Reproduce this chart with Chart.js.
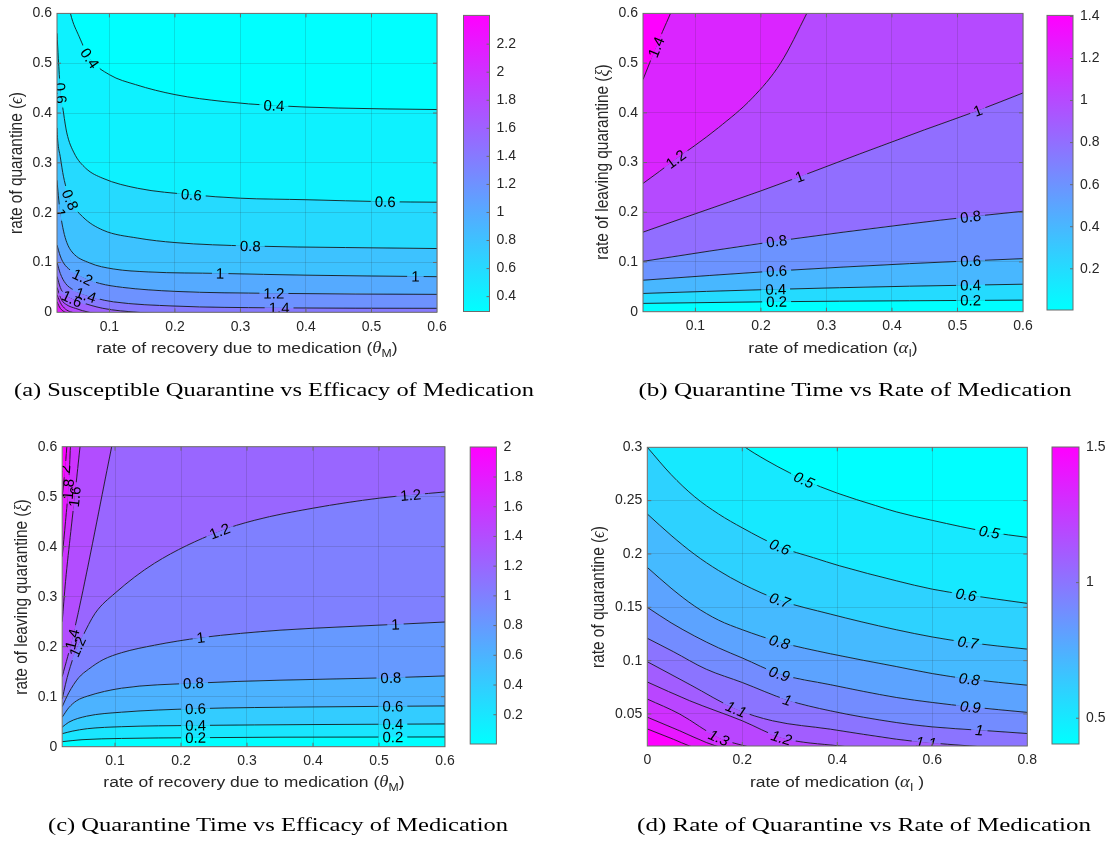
<!DOCTYPE html>
<html>
<head>
<meta charset="utf-8">
<script src="https://cdn.jsdelivr.net/npm/chart.js@4.4.1/dist/chart.umd.min.js"></script>
<style>
  body { margin: 0; background: #fff; width: 1107px; height: 842px; position: relative; overflow: hidden; }
  canvas { position: absolute; left: 0; top: 0; }
  .xl, .yl { position: absolute; font: 15.4px "Liberation Sans", Arial, sans-serif; color: #262626; white-space: nowrap; }
  .xl { transform: translate(-50%, -50%) scaleX(1.14); }
  .yl { transform: translate(-50%, -50%) scaleX(1.14) rotate(-90deg); }
  .xl i, .yl i { font-family: "Liberation Serif", serif; font-style: italic; font-size: 16.5px; }
  sub { font-size: 70%; vertical-align: -0.35em; line-height: 0; }
  .cap { position: absolute; font-family: "Liberation Serif", serif; font-size: 18.5px; color: #000; white-space: nowrap; transform: translate(-50%, -50%); }
</style>
</head>
<body>
<canvas id="mainA" width="1107" height="842"></canvas>
<canvas id="barA" width="1107" height="842"></canvas>
<canvas id="mainB" width="1107" height="842"></canvas>
<canvas id="barB" width="1107" height="842"></canvas>
<canvas id="mainC" width="1107" height="842"></canvas>
<canvas id="barC" width="1107" height="842"></canvas>
<canvas id="mainD" width="1107" height="842"></canvas>
<canvas id="barD" width="1107" height="842"></canvas>

<div class="xl" style="left:247px;top:348px">rate of recovery due to medication (<i>θ</i><sub>M</sub>)</div>
<div class="yl" style="left:16px;top:163px">rate of quarantine (<i>ϵ</i>)</div>
<div class="xl" style="left:833px;top:348px">rate of medication (<i>α</i><sub>I</sub>)</div>
<div class="yl" style="left:602px;top:162px">rate of leaving quarantine (<i>ξ</i>)</div>
<div class="xl" style="left:254px;top:782px">rate of recovery due to medication (<i>θ</i><sub>M</sub>)</div>
<div class="yl" style="left:21px;top:597px">rate of leaving quarantine (<i>ξ</i>)</div>
<div class="xl" style="left:837px;top:782px">rate of medication (<i>α</i><sub>I</sub> )</div>
<div class="yl" style="left:598px;top:597px">rate of quarantine (<i>ϵ</i>)</div>

<div class="cap" data-w="520" style="left:274px;top:390px">(a) Susceptible Quarantine vs Efficacy of Medication</div>
<div class="cap" data-w="433" style="left:855px;top:390px">(b) Quarantine Time vs Rate of Medication</div>
<div class="cap" data-w="460" style="left:278px;top:825px">(c) Quarantine Time vs Efficacy of Medication</div>
<div class="cap" data-w="454" style="left:864px;top:825px">(d) Rate of Quarantine vs Rate of Medication</div>

<script>
// ---- panel (a): susceptible quarantine vs efficacy of medication ----
const aLevels = [0.4, 0.6, 0.8, 1, 1.2, 1.4, 1.6, 1.8, 2, 2.2];
const aLines = [
  [[0.02, 0.75], [0.035, 0.64], [0.0405, 0.6], [0.054, 0.553], [0.07, 0.51], [0.1, 0.477], [0.14, 0.457], [0.2, 0.437], [0.275, 0.423], [0.35, 0.415], [0.45, 0.41], [0.6, 0.407]],
  [[0.02, 0.56], [0.022, 0.51], [0.025, 0.45], [0.03, 0.4], [0.035, 0.36], [0.046, 0.32], [0.064, 0.289], [0.09, 0.269], [0.143, 0.249], [0.225, 0.236], [0.3, 0.229], [0.4, 0.226], [0.52, 0.222], [0.6, 0.221]],
  [[0.02, 0.37], [0.021, 0.346], [0.025, 0.312], [0.03, 0.272], [0.04, 0.226], [0.059, 0.192], [0.09, 0.165], [0.143, 0.149], [0.2, 0.14], [0.315, 0.133], [0.46, 0.13], [0.6, 0.128]],
  [[0.02, 0.265], [0.022, 0.235], [0.025, 0.2], [0.03, 0.163], [0.035, 0.14], [0.043, 0.121], [0.07, 0.099], [0.106, 0.087], [0.16, 0.081], [0.27, 0.078], [0.4, 0.0745], [0.6, 0.0715]],
  [[0.02, 0.135], [0.025, 0.113], [0.03, 0.099], [0.04, 0.085], [0.06, 0.07], [0.085, 0.058], [0.12, 0.05], [0.2, 0.042], [0.35, 0.038], [0.6, 0.036]],
  [[0.02, 0.1], [0.025, 0.078], [0.033, 0.058], [0.045, 0.045], [0.06, 0.036], [0.08, 0.028], [0.106, 0.021], [0.2, 0.0125], [0.35, 0.009], [0.6, 0.008]],
  [[0.02, 0.072], [0.025, 0.05], [0.03, 0.038], [0.04, 0.029], [0.054, 0.0214], [0.09, 0.008], [0.143, 0], [0.3, -0.01], [0.6, -0.02]],
  [[0.02, 0.05], [0.027, 0.025], [0.035, 0.015], [0.048, 0.008], [0.069, 0], [0.2, -0.015], [0.6, -0.03]],
  [[0.02, 0.035], [0.027, 0.015], [0.043, 0], [0.2, -0.02], [0.6, -0.04]],
  [[0.02, 0.021], [0.025, 0.008], [0.033, 0], [0.2, -0.03], [0.6, -0.05]]
];
const aLabelsX = [[0.4, 0.07], [0.4, 0.351], [0.6, 0.225], [0.6, 0.521], [0.8, 0.04], [0.8, 0.315], [1, 0.269], [1, 0.567], [1.2, 0.059], [1.2, 0.351], [1.4, 0.064], [1.4, 0.359], [1.6, 0.043]];
const aLabelsY = [[0.6, 0.44], [1, 0.2]];
const aClim = [0.294, 2.405];
const aXTicks = [0.1, 0.2, 0.3, 0.4, 0.5, 0.6];
const aYTicks = [0, 0.1, 0.2, 0.3, 0.4, 0.5, 0.6];
const aBarTicks = [0.4, 0.6, 0.8, 1, 1.2, 1.4, 1.6, 1.8, 2, 2.2];

// ---- panel (b): quarantine time vs rate of medication ----
const bLevels = [0.2, 0.4, 0.6, 0.8, 1, 1.2, 1.4];
const bLines = [
  [[0.02, 0.0167], [0.2135, 0.02], [0.427, 0.022], [0.6, 0.0233]],
  [[0.02, 0.0367], [0.2135, 0.0447], [0.427, 0.0513], [0.6, 0.0553]],
  [[0.02, 0.0633], [0.224, 0.082], [0.427, 0.0967], [0.6, 0.1067]],
  [[0.02, 0.1013], [0.224, 0.142], [0.427, 0.1767], [0.52, 0.191], [0.6, 0.202]],
  [[0.02, 0.16], [0.1, 0.197], [0.2, 0.243], [0.26, 0.272], [0.35, 0.317], [0.45, 0.366], [0.53, 0.404], [0.6, 0.44]],
  [[0.02, 0.258], [0.045, 0.282], [0.07, 0.307], [0.1, 0.335], [0.135, 0.37], [0.187, 0.43], [0.23, 0.5], [0.27, 0.6], [0.3, 0.68], [0.6, 1.6]],
  [[0.02, 0.467], [0.03, 0.5], [0.04, 0.532], [0.05, 0.564], [0.062, 0.6], [0.08, 0.66], [0.6, 3]]
];
const bLabelsX = [[1.4, 0.04], [1.2, 0.07], [1, 0.259], [1, 0.531], [0.8, 0.224], [0.8, 0.52], [0.6, 0.224], [0.6, 0.52], [0.4, 0.2225], [0.4, 0.52], [0.2, 0.224], [0.2, 0.52]];
const bLabelsY = [];
const bClim = [0.004, 1.405];
const bXTicks = [0.1, 0.2, 0.3, 0.4, 0.5, 0.6];
const bYTicks = [0, 0.1, 0.2, 0.3, 0.4, 0.5, 0.6];
const bBarTicks = [0.2, 0.4, 0.6, 0.8, 1, 1.2, 1.4];

// ---- panel (c): quarantine time vs efficacy of medication ----
const cLevels = [0.2, 0.4, 0.6, 0.8, 1, 1.2, 1.4, 1.6, 1.8, 2];
const cLines = [
  [[0.02, 0.01], [0.05, 0.014], [0.11, 0.0165], [0.221, 0.018], [0.35, 0.019], [0.6, 0.0195]],
  [[0.02, 0.026], [0.035, 0.031], [0.058, 0.036], [0.11, 0.04], [0.222, 0.0425], [0.4, 0.0443], [0.6, 0.0455]],
  [[0.02, 0.039], [0.03, 0.049], [0.057, 0.061], [0.11, 0.069], [0.222, 0.076], [0.4, 0.0795], [0.6, 0.0815]],
  [[0.02, 0.059], [0.03, 0.078], [0.042, 0.092], [0.058, 0.101], [0.11, 0.117], [0.22, 0.127], [0.35, 0.133], [0.52, 0.138], [0.6, 0.1415]],
  [[0.02, 0.08], [0.03, 0.108], [0.045, 0.138], [0.06, 0.155], [0.082, 0.174], [0.11, 0.188], [0.16, 0.203], [0.23, 0.218], [0.35, 0.233], [0.45, 0.24], [0.6, 0.2494]],
  [[0.02, 0.095], [0.025, 0.125], [0.03, 0.15], [0.04, 0.19], [0.05, 0.218], [0.07, 0.267], [0.1, 0.307], [0.16, 0.367], [0.2566, 0.43], [0.312, 0.453], [0.4, 0.477], [0.5, 0.497], [0.6, 0.5095]],
  [[0.02, 0.14], [0.037, 0.225], [0.095, 0.6], [0.6, 3.9]],
  [[0.02, 0.25], [0.025, 0.33], [0.033, 0.43], [0.04, 0.513], [0.047, 0.6], [0.06, 0.76], [0.6, 7.4]],
  [[0.02, 0.38], [0.025, 0.45], [0.03, 0.53], [0.0325, 0.6], [0.04, 0.75], [0.6, 10]],
  [[0.02, 0.5], [0.024, 0.55], [0.027, 0.6], [0.035, 0.75], [0.6, 10.2]]
];
const cLabelsX = [[1.2, 0.2586], [1.2, 0.548], [1, 0.23], [1, 0.525], [0.8, 0.219], [0.8, 0.518], [0.6, 0.222], [0.6, 0.521], [0.4, 0.222], [0.4, 0.521], [0.2, 0.222], [0.2, 0.521]];
const cLabelsY = [[2, 0.555], [1.8, 0.515], [1.6, 0.5], [1.4, 0.215], [1.2, 0.2]];
const cClim = [0.003, 2.002];
const cXTicks = [0.1, 0.2, 0.3, 0.4, 0.5, 0.6];
const cYTicks = [0, 0.1, 0.2, 0.3, 0.4, 0.5, 0.6];
const cBarTicks = [0.2, 0.4, 0.6, 0.8, 1, 1.2, 1.4, 1.6, 1.8, 2];

// ---- panel (d): rate of quarantine vs rate of medication ----
const dLevels = [0.5, 0.6, 0.7, 0.8, 0.9, 1, 1.1, 1.2, 1.3, 1.4, 1.5];
const dLines = [
  [[0, 0.39], [0.1, 0.34], [0.2, 0.302], [0.25, 0.288], [0.3, 0.276], [0.33, 0.2695], [0.4, 0.257], [0.48, 0.2455], [0.524, 0.2395], [0.6, 0.2315], [0.72, 0.2205], [0.8, 0.2156]],
  [[0, 0.3], [0.05, 0.2745], [0.1, 0.2535], [0.15, 0.2375], [0.2, 0.2245], [0.279, 0.2067], [0.35, 0.1965], [0.404, 0.189], [0.524, 0.1749], [0.6, 0.167], [0.671, 0.1618], [0.8, 0.1537]],
  [[0, 0.2375], [0.05, 0.2175], [0.1, 0.1995], [0.15, 0.1845], [0.2, 0.172], [0.279, 0.1566], [0.385, 0.1437], [0.45, 0.1365], [0.524, 0.129], [0.6, 0.1222], [0.675, 0.117], [0.8, 0.1108]],
  [[0, 0.1874], [0.05, 0.168], [0.1, 0.151], [0.15, 0.138], [0.2, 0.129], [0.278, 0.1175], [0.385, 0.1065], [0.524, 0.0945], [0.6, 0.0879], [0.678, 0.0827], [0.8, 0.077]],
  [[0, 0.15], [0.05, 0.1355], [0.1, 0.123], [0.15, 0.112], [0.2, 0.1025], [0.278, 0.0876], [0.385, 0.0775], [0.524, 0.0655], [0.6, 0.0608], [0.68, 0.0567], [0.8, 0.0515]],
  [[0, 0.121], [0.0545, 0.1085], [0.124, 0.092], [0.2, 0.0795], [0.295, 0.063], [0.385, 0.053], [0.524, 0.042], [0.6, 0.0379], [0.699, 0.0348], [0.8, 0.0317]],
  [[0, 0.099], [0.09, 0.0775], [0.187, 0.0545], [0.264, 0.0436], [0.385, 0.0358], [0.524, 0.0264], [0.587, 0.0233], [0.678, 0.0201], [0.8, 0.016]],
  [[0, 0.08], [0.0894, 0.0624], [0.2, 0.0436], [0.2826, 0.0277], [0.404, 0.0201], [0.6, 0.012], [0.8, 0.005]],
  [[0, 0.064], [0.0685, 0.0499], [0.1505, 0.0277], [0.215, 0.019], [0.3, 0.01], [0.8, -0.02]],
  [[0, 0.047], [0.0685, 0.0342], [0.124, 0.0233], [0.16, 0.018], [0.3, 0.005], [0.8, -0.05]],
  [[0, 0.036], [0.0545, 0.0264], [0.089, 0.02], [0.2, 0.005], [0.8, -0.07]]
];
const dLabelsX = [[0.5, 0.33], [0.5, 0.72], [0.6, 0.279], [0.6, 0.671], [0.7, 0.279], [0.7, 0.675], [0.8, 0.278], [0.8, 0.678], [0.9, 0.278], [0.9, 0.68], [1, 0.295], [1, 0.699], [1.1, 0.187], [1.1, 0.587], [1.2, 0.2826], [1.3, 0.1505]];
const dLabelsY = [];
const dClim = [0.405, 1.5];
const dXTicks = [0, 0.2, 0.4, 0.6, 0.8];
const dYTicks = [0.05, 0.1, 0.15, 0.2, 0.25, 0.3];
const dBarTicks = [0.5, 1, 1.5];

// pixel boxes: [left, top, right, bottom]
const W = 1107, H = 842;
const boxes = {
  a: { area: [57, 13.3, 437, 312.3], bar: [463.5, 13, 489.5, 311.5] },
  b: { area: [643, 11.7, 1023, 311.7], bar: [1047, 11.7, 1073, 310] },
  c: { area: [62.2, 446.7, 445, 746.7], bar: [470.2, 447, 496.4, 744] },
  d: { area: [647.3, 447.3, 1027.3, 746], bar: [1052, 447, 1079, 744] }
};

const tickFont = { family: '"Liberation Sans", Arial, sans-serif', size: 14 };
const textColor = '#262626';
const axisColor = '#6b6b6b';
const gridColor = 'rgba(38,38,38,0.15)';

// MATLAB "cool" colormap
function cool(t) {
  t = Math.min(1, Math.max(0, t));
  return `rgb(${Math.round(255 * t)},${Math.round(255 * (1 - t))},255)`;
}

// contourf colours a band by its lower level
function bandColor(p, k) {
  if (k < 0) return cool(0);
  return cool((p.levels[k] - p.clim[0]) / (p.clim[1] - p.clim[0]));
}

// pixel samples along the drawn (monotone bezier) line
function sampleCurve(pts) {
  const out = [];
  for (let i = 0; i < pts.length - 1; i++) {
    const a = pts[i], b = pts[i + 1];
    const c1x = a.cp2x ?? a.x, c1y = a.cp2y ?? a.y;
    const c2x = b.cp1x ?? b.x, c2y = b.cp1y ?? b.y;
    for (let j = 0; j < 40; j++) {
      const t = j / 40, u = 1 - t;
      out.push({
        x: u * u * u * a.x + 3 * u * u * t * c1x + 3 * u * t * t * c2x + t * t * t * b.x,
        y: u * u * u * a.y + 3 * u * u * t * c1y + 3 * u * t * t * c2y + t * t * t * b.y
      });
    }
  }
  const last = pts[pts.length - 1];
  out.push({ x: last.x, y: last.y });
  return out;
}

function spotOn(curve, key, target) {
  for (let i = 0; i < curve.length - 1; i++) {
    const v0 = curve[i][key] - target, v1 = curve[i + 1][key] - target;
    if (v0 === 0 || v0 * v1 < 0) {
      const f = v0 === v1 ? 0 : v0 / (v0 - v1);
      const x = curve[i].x + f * (curve[i + 1].x - curve[i].x);
      const y = curve[i].y + f * (curve[i + 1].y - curve[i].y);
      const d = q => Math.hypot(q.x - x, q.y - y);
      let j0 = i, j1 = i + 1;
      while (j0 > 0 && d(curve[j0]) < 8) j0--;
      while (j1 < curve.length - 1 && d(curve[j1]) < 8) j1++;
      const ang = Math.atan2(curve[j1].y - curve[j0].y, curve[j1].x - curve[j0].x);
      return { x, y, ang };
    }
  }
  return null;
}

function contourPlugin(p, strokeStart) {
  let spots = [];
  const labelFont = (p.italic ? 'italic ' : '') + '15px "Liberation Sans", Arial, sans-serif';
  return {
    id: 'contour',
    afterDatasetsDraw(chart) {
      const { ctx, chartArea: a, scales } = chart;
      spots = [];
      ctx.save();
      ctx.beginPath();
      ctx.rect(a.left, a.top, a.right - a.left, a.bottom - a.top);
      ctx.clip();
      ctx.font = labelFont;
      const place = (lv, key, val) => {
        const k = p.levels.indexOf(lv);
        const curve = sampleCurve(chart.getDatasetMeta(strokeStart + k).data);
        const target = key === 'x' ? scales.x.getPixelForValue(val) : scales.y.getPixelForValue(val);
        const s = spotOn(curve, key, target);
        if (!s) return;
        const txt = String(lv);
        const w = ctx.measureText(txt).width + 8;
        const above = p.dir === 'up' ? bandColor(p, k) : bandColor(p, k - 1);
        const below = p.dir === 'up' ? bandColor(p, k - 1) : bandColor(p, k);
        ctx.save();
        ctx.translate(s.x, s.y);
        ctx.rotate(s.ang);
        ctx.fillStyle = above;
        ctx.fillRect(-w / 2, -2.5, w, 2.6);
        ctx.fillStyle = below;
        ctx.fillRect(-w / 2, 0, w, 2.5);
        ctx.restore();
        spots.push({ ...s, txt });
      };
      p.labelsX.forEach(([lv, v]) => place(lv, 'x', v));
      p.labelsY.forEach(([lv, v]) => place(lv, 'y', v));
      ctx.restore();
    },
    afterDraw(chart) {
      const { ctx, chartArea: a, scales } = chart;
      ctx.save();
      ctx.beginPath();
      ctx.rect(a.left, a.top, a.right - a.left, a.bottom - a.top);
      ctx.clip();
      ctx.font = labelFont;
      ctx.fillStyle = '#000';
      ctx.textAlign = 'center';
      ctx.textBaseline = 'middle';
      spots.forEach(s => {
        ctx.save();
        ctx.translate(s.x, s.y);
        ctx.rotate(s.ang);
        ctx.fillText(s.txt, 0, 1);
        ctx.restore();
      });
      ctx.restore();

      ctx.save();
      ctx.strokeStyle = axisColor;
      ctx.lineWidth = 1;
      ctx.strokeRect(a.left, a.top, a.right - a.left, a.bottom - a.top);
      ctx.beginPath();
      scales.x.ticks.forEach(t => {
        const px = scales.x.getPixelForValue(t.value);
        if (px <= a.left + 1 || px >= a.right - 1) return;
        ctx.moveTo(px, a.bottom); ctx.lineTo(px, a.bottom - 4);
        ctx.moveTo(px, a.top); ctx.lineTo(px, a.top + 4);
      });
      scales.y.ticks.forEach(t => {
        const py = scales.y.getPixelForValue(t.value);
        if (py <= a.top + 1 || py >= a.bottom - 1) return;
        ctx.moveTo(a.left, py); ctx.lineTo(a.left + 4, py);
        ctx.moveTo(a.right, py); ctx.lineTo(a.right - 4, py);
      });
      ctx.stroke();
      ctx.restore();
    }
  };
}

function drawContour(id, p, g) {
  const [L, T, R, B] = g.area;
  const n = p.levels.length;
  const lowEdge = p.dir === 'up' ? 'start' : 'end';
  const highEdge = p.dir === 'up' ? 'end' : 'start';
  const toPts = pts => pts.map(([x, y]) => ({ x, y }));
  const common = { pointRadius: 0, cubicInterpolationMode: 'monotone', clip: 0 };
  const datasets = [];
  p.lines.forEach((pts, k) => datasets.push({
    ...common, data: toPts(pts), borderWidth: 0,
    fill: k === 0 ? lowEdge : '-1', backgroundColor: bandColor(p, k - 1)
  }));
  datasets.push({
    ...common, data: toPts(p.lines[n - 1]), borderWidth: 0,
    fill: highEdge, backgroundColor: bandColor(p, n - 1)
  });
  const strokeStart = datasets.length;
  p.lines.forEach(pts => datasets.push({
    ...common, data: toPts(pts), borderWidth: 0.8, borderColor: '#000', fill: false
  }));

  new Chart(document.getElementById(id), {
    type: 'line',
    data: { datasets },
    options: {
      responsive: false,
      animation: false,
      events: [],
      layout: { padding: { left: L - 60, top: T, right: W - R, bottom: H - B - 40 } },
      elements: { line: { capBezierPoints: false } },
      plugins: {
        legend: { display: false },
        tooltip: { enabled: false },
        filler: { propagate: false, drawTime: 'beforeDatasetsDraw' }
      },
      scales: {
        x: {
          type: 'linear', min: p.xRange[0], max: p.xRange[1],
          afterFit: s => { s.height = 40; },
          afterBuildTicks: s => { s.ticks = p.xTicks.map(v => ({ value: v })); },
          ticks: { padding: 6, font: tickFont, color: textColor, maxRotation: 0, autoSkip: false, callback: v => String(v) },
          grid: { z: 1, color: gridColor, lineWidth: 1, drawTicks: false },
          border: { display: false }
        },
        y: {
          type: 'linear', min: p.yRange[0], max: p.yRange[1],
          afterFit: s => { s.width = 60; },
          afterBuildTicks: s => { s.ticks = p.yTicks.map(v => ({ value: v })); },
          ticks: { padding: 5, font: tickFont, color: textColor, autoSkip: false, callback: v => String(v) },
          grid: { z: 1, color: gridColor, lineWidth: 1, drawTicks: false },
          border: { display: false }
        }
      }
    },
    plugins: [contourPlugin(p, strokeStart)]
  });
}

const barFrame = {
  id: 'barFrame',
  afterDraw(chart) {
    const { ctx, chartArea: a, scales } = chart;
    ctx.save();
    ctx.strokeStyle = axisColor;
    ctx.lineWidth = 1;
    ctx.strokeRect(a.left, a.top, a.right - a.left, a.bottom - a.top);
    ctx.beginPath();
    scales.y.ticks.forEach(t => {
      const py = scales.y.getPixelForValue(t.value);
      if (py <= a.top + 1 || py >= a.bottom - 1) return;
      ctx.moveTo(a.right, py); ctx.lineTo(a.right - 3, py);
    });
    ctx.stroke();
    ctx.restore();
  }
};

function drawBar(id, clim, ticks, g) {
  const [L, T, R, B] = g.bar;
  const axW = Math.min(40, W - R);
  new Chart(document.getElementById(id), {
    type: 'bar',
    data: {
      labels: [''],
      datasets: [{
        data: [clim],
        borderWidth: 0,
        barPercentage: 1,
        categoryPercentage: 1,
        backgroundColor: c => {
          const a = c.chart.chartArea;
          if (!a) return cool(0);
          const gr = c.chart.ctx.createLinearGradient(0, a.bottom, 0, a.top);
          gr.addColorStop(0, cool(0));
          gr.addColorStop(0.5, cool(0.5));
          gr.addColorStop(1, cool(1));
          return gr;
        }
      }]
    },
    options: {
      responsive: false,
      animation: false,
      events: [],
      layout: { padding: { left: L, top: T, right: W - R - axW, bottom: H - B } },
      plugins: { legend: { display: false }, tooltip: { enabled: false } },
      scales: {
        x: { display: false },
        y: {
          position: 'right', min: clim[0], max: clim[1],
          afterFit: s => { s.width = axW; },
          afterBuildTicks: s => { s.ticks = ticks.map(v => ({ value: v })); },
          ticks: { padding: 7, font: tickFont, color: textColor, callback: v => String(v) },
          grid: { display: false, drawTicks: false },
          border: { display: false }
        }
      }
    },
    plugins: [barFrame]
  });
}

const panelA = { levels: aLevels, lines: aLines, labelsX: aLabelsX, labelsY: aLabelsY, clim: aClim, dir: 'down',
  xRange: [0.02, 0.6], yRange: [0, 0.6], xTicks: aXTicks, yTicks: aYTicks };
const panelB = { levels: bLevels, lines: bLines, labelsX: bLabelsX, labelsY: bLabelsY, clim: bClim, dir: 'up',
  xRange: [0.02, 0.6], yRange: [0, 0.6], xTicks: bXTicks, yTicks: bYTicks };
const panelC = { levels: cLevels, lines: cLines, labelsX: cLabelsX, labelsY: cLabelsY, clim: cClim, dir: 'up',
  xRange: [0.02, 0.6], yRange: [0, 0.6], xTicks: cXTicks, yTicks: cYTicks };
const panelD = { levels: dLevels, lines: dLines, labelsX: dLabelsX, labelsY: dLabelsY, clim: dClim, dir: 'down', italic: true,
  xRange: [0, 0.8], yRange: [0.02, 0.3], xTicks: dXTicks, yTicks: dYTicks };

drawContour('mainA', panelA, boxes.a);
drawBar('barA', aClim, aBarTicks, boxes.a);
drawContour('mainB', panelB, boxes.b);
drawBar('barB', bClim, bBarTicks, boxes.b);
drawContour('mainC', panelC, boxes.c);
drawBar('barC', cClim, cBarTicks, boxes.c);
drawContour('mainD', panelD, boxes.d);
drawBar('barD', dClim, dBarTicks, boxes.d);

// stretch the captions to the width of the LaTeX sub-captions
document.querySelectorAll('.cap').forEach(el => {
  const target = +el.dataset.w;
  const w = el.getBoundingClientRect().width;
  if (w > 0) el.style.transform = `translate(-50%, -50%) scaleX(${(target / w).toFixed(3)})`;
});
</script>
</body>
</html>
